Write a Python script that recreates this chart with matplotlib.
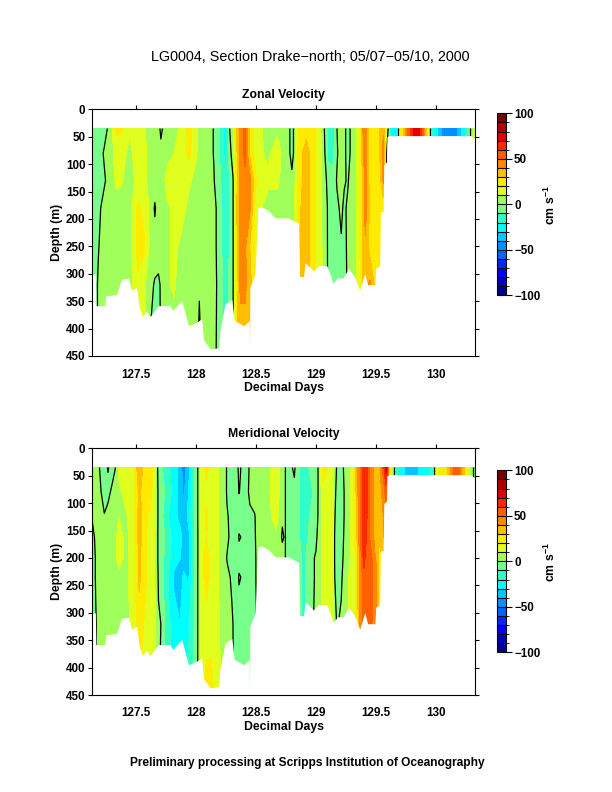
import numpy as np
import matplotlib
matplotlib.use('Agg')
from matplotlib import pyplot as plt
from matplotlib.colors import ListedColormap, BoundaryNorm

plt.rcParams['font.family'] = ['Liberation Sans', 'DejaVu Sans']

# 20 colour bands from -100 to 100
band_colors = ['#00008c', '#0000be', '#0000ff', '#0028ff', '#0064ff', '#0091ff', '#00c8ff',
               '#00ffff', '#32ffc8', '#78ff8c', '#a0ff5a', '#e1ff1e', '#ffeb00', '#ffbe00',
               '#ff8700', '#ff5f00', '#ff2800', '#e10000', '#af0000', '#780000']
levels = np.arange(-100, 101, 10)

# bottom of the section (day, depth)
bottom_days = [127.14, 127.165, 127.17, 127.244, 127.25, 127.34, 127.383, 127.44, 127.467, 127.508,
               127.53, 127.556, 127.59, 127.62, 127.69, 127.786, 127.81, 127.883, 127.94, 128.01,
               128.05, 128.064, 128.12, 128.19, 128.20, 128.244, 128.30, 128.32, 128.40, 128.445,
               128.447, 128.449, 128.45, 128.494, 128.517, 128.55, 128.606, 128.66, 128.77, 128.856,
               128.864, 128.897, 128.91, 128.98, 129.02, 129.09, 129.125, 129.14, 129.18, 129.225,
               129.27, 129.32, 129.364, 129.405, 129.43, 129.49, 129.497, 129.53, 129.536, 129.558,
               129.564, 129.586, 129.59, 129.61, 130.29, 130.325]
bottom_depth = [300, 300, 358, 358, 340, 338, 310, 308, 330, 325,
                360, 378, 368, 378, 358, 358, 367, 348, 395, 388,
                382, 420, 437, 435, 405, 355, 347, 385, 395, 385,
                437, 385, 325, 300, 180, 178, 185, 198, 198, 208,
                305, 305, 280, 295, 285, 285, 305, 318, 307, 308,
                290, 305, 330, 300, 320, 320, 290, 285, 187, 187,
                101, 96, 50, 48, 48, 56]

# zonal velocity
zonal_depths = [35, 80, 130, 180, 250, 320, 440]
zonal_days = [127.14, 127.19, 127.24, 127.29, 127.34, 127.38, 127.45, 127.52, 127.57, 127.63,
              127.66, 127.69, 127.71, 127.76, 127.82, 127.88, 127.94, 128.0, 128.03, 128.06,
              128.11, 128.15, 128.18, 128.21, 128.25, 128.28, 128.31, 128.34, 128.37, 128.41,
              128.45, 128.49, 128.53, 128.6, 128.68, 128.74, 128.78, 128.8, 128.815, 128.86,
              128.92, 128.97, 129.03, 129.07, 129.1, 129.14, 129.175, 129.21, 129.235, 129.265,
              129.29, 129.33, 129.36, 129.39, 129.41, 129.45, 129.49, 129.53, 129.56, 129.586,
              129.6]
zonal_values = [
    [-6, -6, -6, -6, -6, -6, -6], [-5, -4, -4, -2, -0.5, 1, 1], [-3, 1, -1, 3, 4, 4, 4],
    [3, 5, 4, 5, 5, 5, 5], [22, 15, 12, 6, 5, 5, 5], [22, 13, 11, 6, 5, 5, 5],
    [11, 8, 6, 6, 6, 6, 6], [12, 14, 13, 22, 24, 18, 16], [11, 12, 12, 16, 22, 12, 12],
    [6, 6, 7, 7, 5, 2, -2], [6, 5, 6, -1.5, 5, -1, -4], [5, 5, 6, 6, 5, -2, -4],
    [-3, 4, 6, 6, 6, 1, 1], [8, 8, 12, 9, 8, 9, 12], [7, 10, 12, 11, 12, 11, 6],
    [12, 13, 12, 14, 8, 6, 5], [24, 23, 12, 8, 6, 6, 6], [15, 12, 7, 6, 6, 6, 6],
    [7, 6, 6, 6, 6, 1, -3], [5, 5, 6, 6, 6, 4, 4], [4, 4, 4, 4, 4, 4, 4],
    [-0.5, -0.5, 1, 2, 2, 2, 2], [-8, -8, -6, -1, -1, -0.5, -1], [-12, -12, -10, -9, -9, -9, -9],
    [-28, -26, -16, -22, -15, -12, -12], [-1, -5, -10, -11, -10, -9, -8], [10, 6, -1, -1, -1, -1, -1],
    [30, 28, 26, 30, 26, 22, 28], [45, 45, 44, 45, 42, 42, 35], [52, 52, 48, 45, 42, 42, 35],
    [30, 28, 44, 42, 30, 35, 33], [18, 18, 25, 20, 20, 20, 20], [12, 12, 12, 12, 12, 12, 12],
    [6, 8, 12, 6, 6, 6, 6], [8, 15, 12, 6, 6, 6, 6], [6, 5, 5, 6, 6, 6, 6],
    [0.5, 0.5, 5, 6, 6, 6, 6], [-3, -3, 2, 5, 6, 6, 6], [0.5, 0.5, 5, 6, 6, 6, 6],
    [24, 26, 26, 28, 30, 30, 30], [26, 35, 35, 36, 36, 35, 35], [25, 25, 26, 26, 26, 25, 25],
    [14, 14, 14, 14, 14, 14, 14], [0, 2, 4, 5, 6, 7, 7], [-14, -13, -3, -1, -1, -1, -1],
    [-17, -13, -7, -6, -6, -6, -6], [0, -1, 1, -2, -7, -7, -7], [5, 5, 5, 2, -1, -6, -6],
    [2, 2, 1, -2, -3, -5, -5], [-3, -3, -1, 2, 2, 2, 2], [1, 1, 4, 5, 5, 4, 4],
    [8, 8, 9, 8, 8, 6, 6], [18, 18, 18, 18, 18, 16, 16], [40, 38, 30, 30, 30, 30, 30],
    [45, 45, 45, 45, 38, 38, 38], [25, 25, 25, 28, 25, 42, 42], [22, 22, 22, 22, 22, 28, 28],
    [30, 30, 26, 22, 22, 20, 20], [38, 45, 42, 22, 20, 20, 20], [12, 1, 0, 0, 0, 0, 0],
    [0, -5, -5, -5, -5, -5, -5],
]
zonal_strip_days = [129.6, 129.62, 129.64, 129.67, 129.683, 129.7, 129.73, 129.76, 129.79, 129.83,
                    129.86, 129.89, 129.92, 129.95, 129.97, 130.0, 130.03, 130.06, 130.16, 130.2,
                    130.24, 130.27, 130.29, 130.33]
zonal_strip = [0, -15, -28, -20, 0, 20, 35, 50, 65, 75,
               72, 55, 30, 2, -15, -25, -35, -45, -45, -32,
               -20, -6, 5, 18]

# meridional velocity
merid_depths = [35, 80, 125, 162, 200, 235, 320, 440]
merid_days = [127.14, 127.17, 127.2, 127.24, 127.27, 127.31, 127.33, 127.36, 127.42, 127.48,
              127.53, 127.58, 127.62, 127.66, 127.69, 127.71, 127.76, 127.82, 127.87, 127.9,
              127.94, 127.98, 128.02, 128.05, 128.09, 128.13, 128.17, 128.21, 128.24, 128.26,
              128.3, 128.32, 128.345, 128.36, 128.39, 128.41, 128.45, 128.49, 128.53, 128.6,
              128.67, 128.72, 128.74, 128.78, 128.82, 128.85, 128.9, 128.96, 129.0, 129.02,
              129.06, 129.14, 129.15, 129.175, 129.21, 129.24, 129.27, 129.31, 129.34, 129.37,
              129.4, 129.42, 129.46, 129.5, 129.53, 129.56, 129.58, 129.6]
merid_values = [
    [4, 3, 1, -3, -5, -5, -6, -6], [5, 4, 4, 2, 1, 1, -0.5, -1], [0, 3, 5, 5, 5, 5, 5, 5],
    [-6, -6, 1, 5, 5, 5, 5, 5], [1, -4, 5, 5, 5, 6, 6, 6], [-5, 4, 6, 6, 6, 7, 7, 7],
    [-0.5, 6, 6, 8, 8, 8, 7, 7], [12, 8, 10, 13, 13, 8, 7, 7], [16, 13, 9, 8, 8, 8, 8, 8],
    [18, 15, 14, 14, 14, 14, 12, 12], [38, 32, 35, 35, 32, 32, 26, 20], [24, 24, 22, 22, 22, 22, 18, 16],
    [26, 25, 18, 14, 14, 15, 14, 14], [15, 12, 12, 10, 10, 10, 12, 12], [-4, -2, -2, -2, -2, -1, 1, 2],
    [-8, -6, -6, -6, -6, -5, 0, -2], [-15, -12, -18, -12, -14, -18, -15, -15], [-25, -25, -28, -25, -26, -32, -26, -26],
    [-35, -35, -32, -28, -30, -35, -30, -30], [-45, -42, -35, -32, -35, -28, -28, -25],
    [-35, -30, -28, -34, -36, -32, -22, -18], [-12, -12, -12, -15, -15, -12, -12, -10],
    [1, 1, 1, 1, 1, 1, 1, 1], [14, 14, 14, 16, 16, 14, 14, 16], [24, 18, 22, 20, 28, 28, 14, 25],
    [14, 14, 14, 14, 14, 14, 14, 25], [14, 14, 14, 14, 14, 14, 14, 14], [6, 6, 6, 6, 6, 6, 8, 10],
    [4, 4, 4, 4, 4, 4, 4, 4], [-1, -1, 1, 2, -0.5, 2, 3, 3], [-5, -5, -3, -3, -5, -1, 1, 3],
    [-6, -6, -5, -6, -6, -6, -1, -2], [-2, -3, -5, -5, -5, -4, -5, -5], [2, 0.3, -5, 1, -4, 1, -5, -5],
    [-2, -2, -5, -1, -4, -1, -5, -5], [-5, -5, -5, -5, -5, -5, -5, -5], [1, 2, -2, -3, -3, -3, -5, -5],
    [3, 3, -0.5, -1, -2, -2, -4, -4], [6, 6, 5, 5, 6, 6, 6, 6], [7, 8, 7, 7, 7, 7, 7, 7],
    [16, 16, 14, 8, 8, 8, 8, 8], [5, 4, 1, -1, 3, 3, 3, 3], [0.5, 0.5, 0.5, 0.5, 0.5, 0.5, 0.5, 0.5],
    [-3, -3, -3, -3, -3, -3, -3, -3], [2, -3, -4, -4, -4, -4, -4, -4], [-8, -8, -8, -8, -7, -7, -7, -7],
    [-15, -15, -16, -15, -12, -12, -12, -12], [-7, -12, -8, -6, -2, -2, -2, -2], [-6, -6, -4, -2, 1, 1, 2, 2],
    [1, 1, 1, 3, 4, 4, 4, 4], [25, 16, 14, 14, 14, 14, 12, 12], [14, 14, 12, 12, 12, 12, 12, 12],
    [5, 4, 2, 1, 1, 1, 3, 3], [-1, -3, -4, -4, -4, -3, -0.5, -0.5], [-3, -4, -4, -4, -3, -1, 1, 1],
    [2, 1, 1, 2, 3, 3, 3, 3], [6, 6, 6, 6, 8, 10, 10, 10], [14, 14, 14, 14, 14, 14, 14, 14],
    [35, 35, 32, 30, 25, 25, 22, 22], [52, 52, 50, 50, 45, 45, 45, 45], [68, 68, 68, 68, 66, 55, 55, 55],
    [62, 62, 62, 60, 52, 52, 52, 52], [45, 45, 45, 45, 52, 52, 52, 52], [35, 35, 35, 35, 38, 45, 38, 38],
    [38, 38, 35, 30, 25, 25, 25, 25], [55, 42, 40, 38, 35, 35, 35, 35], [75, 55, 45, 45, 45, 45, 45, 45],
    [60, 60, 60, 60, 60, 60, 60, 60],
]
merid_strip_days = [129.6, 129.61, 129.63, 129.65, 129.67, 129.7, 129.73, 129.76, 129.83, 129.86,
                    129.93, 129.97, 129.985, 130.0, 130.05, 130.09, 130.11, 130.15, 130.18, 130.21,
                    130.24, 130.27, 130.3, 130.33]
merid_strip = [60, 30, 12, 0, -12, -22, -26, -35, -35, -25,
               -24, -12, 2, 15, 25, 30, 38, 55, 60, 42,
               28, 15, 1, -10]

day_ticks = [127.5, 128, 128.5, 129, 129.5, 130]
day_labels = ['127.5', '128', '128.5', '129', '129.5', '130']
depth_ticks = [0, 50, 100, 150, 200, 250, 300, 350, 400, 450]
bar_ticks = [-100, -50, 0, 50, 100]
bar_labels = ['\u2212100', '\u221250', '0', '50', '100']

W, H = 612, 792
cmap = ListedColormap(band_colors)
norm = BoundaryNorm(levels, cmap.N)


def draw_panel(top, bar_top, title, days, depths, values, strip_days, strip):
    ax = fig.add_axes([92.3 / W, 1 - (top + 246.7) / H, 383 / W, 246.7 / H])
    z = np.array(values).T
    cs = ax.contourf(days, depths, z, levels=levels, cmap=cmap, norm=norm, antialiased=False)
    ax.contour(days, depths, z, levels=[0], colors='k', linewidths=0.9)
    strip_z = np.array([strip, strip])
    ax.contourf(strip_days, [35, 60], strip_z, levels=levels, cmap=cmap, norm=norm, antialiased=False)
    ax.contour(strip_days, [35, 60], strip_z, levels=[0], colors='k', linewidths=0.9)
    # white below the bottom, over the contour lines too
    ax.fill_between(bottom_days, bottom_depth, 460, color='white', lw=0, zorder=2.2)

    ax.set_xlim(127.14, 130.325)
    ax.set_ylim(450, 0)
    ax.set_xticks(day_ticks, day_labels)
    ax.set_yticks(depth_ticks)
    ax.tick_params(direction='out', top=True, bottom=False, right=True, length=3, width=0.8,
                   labelsize=8.4, pad=2)
    ax.tick_params(axis='x', pad=6)
    for lab in ax.get_xticklabels() + ax.get_yticklabels():
        lab.set_fontweight('bold')
    ax.set_xlabel('Decimal Days', fontsize=8.8, fontweight='bold', labelpad=1)
    ax.set_ylabel('Depth (m)', fontsize=8.8, fontweight='bold', labelpad=2)
    ax.set_title(title, fontsize=8.8, fontweight='bold', pad=8)

    cax = fig.add_axes([497 / W, 1 - (bar_top + 182) / H, 8.7 / W, 182 / H])
    cb = fig.colorbar(cs, cax=cax, drawedges=True)
    cb.dividers.set_color('k')
    cb.dividers.set_linewidth(0.8)
    cb.set_ticks(bar_ticks, labels=bar_labels)
    cb.ax.tick_params(length=4, width=0.8, labelsize=8.4, pad=2)
    for lab in cb.ax.get_yticklabels():
        lab.set_fontweight('bold')
    fig.text(550 / W, 1 - (bar_top + 92) / H, 'cm s$^{-1}$', rotation=90, fontsize=8.8,
             fontweight='bold', ha='center', va='center')


plt.rcParams['mathtext.default'] = 'bf'
plt.rcParams['mathtext.fontset'] = 'custom'
plt.rcParams['mathtext.bf'] = 'Liberation Sans:bold'

fig = plt.figure(figsize=(W / 100, H / 100), dpi=100)

draw_panel(109.3, 113.3, 'Zonal Velocity', zonal_days, zonal_depths, zonal_values, zonal_strip_days, zonal_strip)
draw_panel(448.3, 470.3, 'Meridional Velocity', merid_days, merid_depths, merid_values, merid_strip_days, merid_strip)

fig.text(310 / W, 1 - 57 / H, 'LG0004, Section Drake\u2212north; 05/07\u221205/10, 2000',
         fontsize=10.4, ha='center', va='center')
fig.text(307 / W, 1 - 763 / H, 'Preliminary processing at Scripps Institution of Oceanography',
         fontsize=8.6, fontweight='bold', ha='center', va='center')

fig.savefig('out.png', dpi=100)
